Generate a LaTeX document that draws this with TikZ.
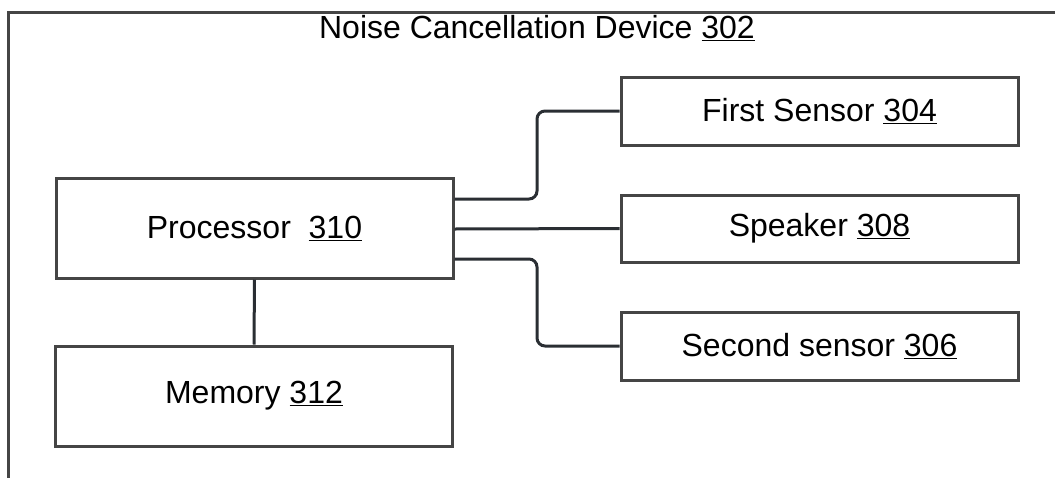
\documentclass[tikz,border=0pt]{standalone}
\usepackage{fontspec}
\setmainfont{Liberation Sans}
\definecolor{boxgray}{HTML}{454545}
\definecolor{linedark}{HTML}{2A2E33}
\begin{document}
\begin{tikzpicture}[x=1pt,y=-1pt,
  blk/.style={draw=boxgray,line width=3pt,fill=white,minimum width=397pt,inner sep=0pt,font=\fontsize{32}{38}\selectfont},
  conn/.style={draw=linedark,line width=3pt,rounded corners=8pt}]
\useasboundingbox (0,0) rectangle (1055,477);
\begin{scope}
\clip (0,0) rectangle (1055,477);
\coordinate (ob) at (8,490);
\coordinate (ot) at (8,12);
\coordinate (or) at (1070,12);
\draw[draw=boxgray,line width=3pt] (ob) -- (ot) -- (or);
\end{scope}
\node[font=\fontsize{32}{38}\selectfont] (title) at (537,28) {Noise Cancellation Device \underline{302}};
\node[blk,minimum height=100pt] (proc) at (254.5,228) {Processor \ \underline{310}};
\node[blk,minimum height=100pt] (mem) at (254,396) {Memory \underline{312}};
\node[blk,minimum height=68pt] (s1) at (819.5,111) {First Sensor \underline{304}};
\node[blk,minimum height=67pt] (spk) at (819.5,228.5) {Speaker \underline{308}};
\node[blk,minimum height=68pt] (s2) at (819.5,346) {Second sensor \underline{306}};
\draw[conn] ([yshift=29pt]proc.east) -| (537,111) -- (s1.west);
\draw[conn] ([yshift=-1pt]proc.east) -- (s1.west |- spk.west);
\draw[conn] ([yshift=-31pt]proc.east) -| (537,346) -- (s2.west);
\draw[conn] (proc.south) -- (mem.north);
\end{tikzpicture}
\end{document}
